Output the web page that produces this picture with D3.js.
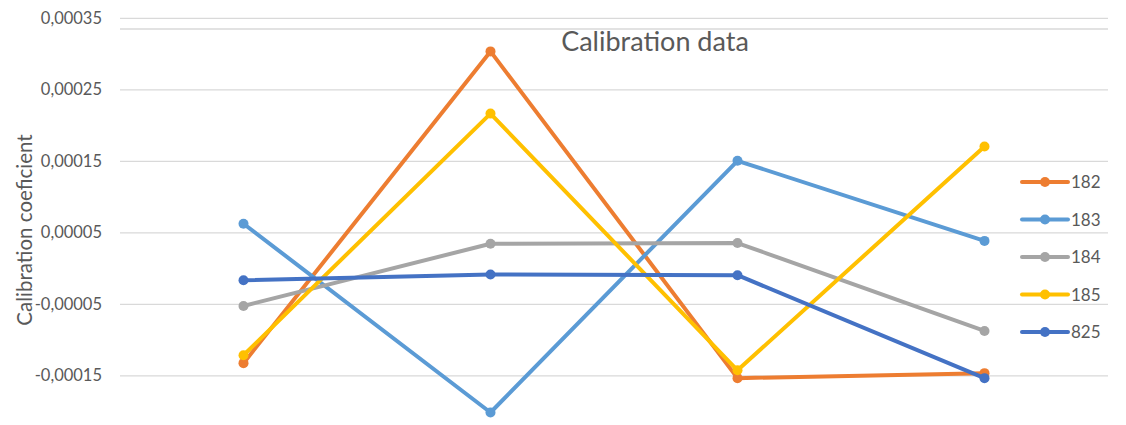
<!DOCTYPE html>
<html>
<head>
  <style>
    body { margin: 0; background: white; }
    text { font-family: Lato, "Open Sans", sans-serif; fill: #595959; }
  </style>
</head>
<body>
  <div id="chart"></div>
  <script src="https://cdnjs.cloudflare.com/ajax/libs/d3/7.8.5/d3.min.js"></script>
  <script>
    // Datos
    const categories = ["1", "2", "3", "4"];
    const seriesNames = ["182", "183", "184", "185", "825"];
    const s182 = [-0.000133, 0.000303, -0.000154, -0.000147];
    const s183 = [0.000062, -0.000202, 0.000150, 0.000038];
    const s184 = [-0.000053, 0.000034, 0.000035, -0.000088];
    const s185 = [-0.000122, 0.000216, -0.000143, 0.000170];
    const s825 = [-0.000017, -0.000009, -0.000010, -0.000154];
    const yTicks = [-0.00015, -0.00005, 0.00005, 0.00015, 0.00025, 0.00035];
    const colors = ["#ED7D31", "#5B9BD5", "#A5A5A5", "#FFC000", "#4472C4"];

    const series = [s182, s183, s184, s185, s825].map((v, i) => ({ name: seriesNames[i], values: v, color: colors[i] }));

    const width = 1126, height = 425;
    const svg = d3.select("#chart").append("svg")
      .attr("width", width).attr("height", height);

    const x = d3.scaleBand().domain(categories).range([120, 1108]);
    const y = d3.scaleLinear().domain([-0.00015, 0.00035]).range([375.3, 17.8]);

    const fmt = d3.formatLocale({ decimal: ",", thousands: ".", grouping: [3], currency: ["", ""], minus: "-" }).format(".5f");

    // Rejilla + etiquetas del eje Y
    const yAxis = d3.axisLeft(y).tickValues(yTicks).tickSize(-(1108 - 120)).tickPadding(18).tickFormat(fmt);
    const yg = svg.append("g").attr("transform", "translate(120,0)").call(yAxis);
    yg.select(".domain").remove();
    yg.selectAll(".tick line").attr("stroke", "#d9d9d9").attr("stroke-width", 1.3);
    yg.selectAll(".tick text").attr("font-size", 16.5).style("fill", "#595959");

    // línea extra del borde superior
    svg.append("line").attr("x1", 120).attr("x2", 1108).attr("y1", 29).attr("y2", 29)
      .attr("stroke", "#d9d9d9").attr("stroke-width", 1.3);

    // Título
    svg.append("text").attr("x", 655).attr("y", 51).attr("text-anchor", "middle")
      .attr("font-size", 27).text("Calibration data");

    // Título eje Y
    svg.append("text").attr("transform", "translate(32,230) rotate(-90)")
      .attr("text-anchor", "middle").attr("font-size", 20.5).text("Calibration coeficient");

    // Líneas
    const line = d3.line().x((d, i) => x(categories[i]) + x.bandwidth() / 2).y(d => y(d));
    const g = svg.append("g");
    series.forEach(s => {
      g.append("path").datum(s.values).attr("d", line)
        .attr("fill", "none").attr("stroke", s.color).attr("stroke-width", 4)
        .attr("stroke-linejoin", "round").attr("stroke-linecap", "round");
      g.selectAll(null).data(s.values).join("circle")
        .attr("cx", (d, i) => x(categories[i]) + x.bandwidth() / 2)
        .attr("cy", d => y(d)).attr("r", 5).attr("fill", s.color);
    });

    // Leyenda
    const legend = svg.append("g").attr("transform", "translate(1022,182)");
    series.forEach((s, i) => {
      const ly = i * 37.5;
      legend.append("line").attr("x1", 0).attr("x2", 46).attr("y1", ly).attr("y2", ly)
        .attr("stroke", s.color).attr("stroke-width", 4).attr("stroke-linecap", "round");
      legend.append("circle").attr("cx", 23).attr("cy", ly).attr("r", 5).attr("fill", s.color);
      legend.append("text").attr("x", 49).attr("y", ly + 6).attr("font-size", 17).text(s.name);
    });
  </script>
</body>
</html>
